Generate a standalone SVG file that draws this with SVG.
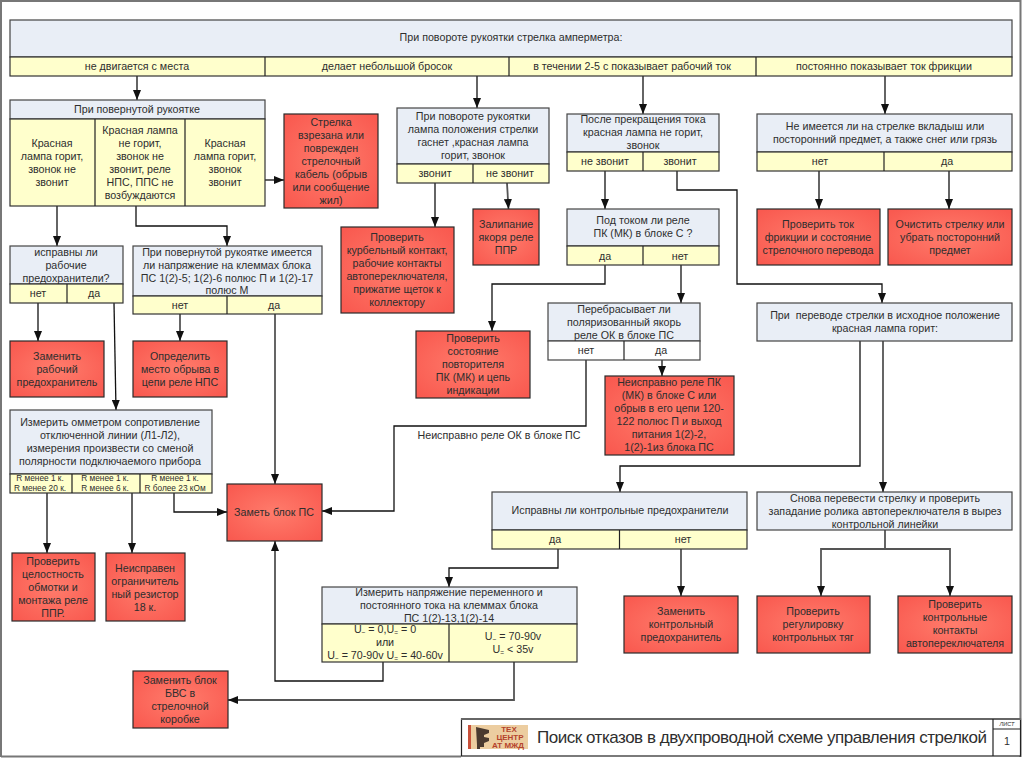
<svg xmlns="http://www.w3.org/2000/svg" width="1022" height="758" viewBox="0 0 1022 758">
<style>
text{font-family:"Liberation Sans",Arial,sans-serif;font-size:10.7px;fill:#2e2e2e;text-anchor:middle}
.q{fill:#e9eef6;stroke:#444;stroke-width:1.2}
.a{fill:#ffffcc;stroke:#333;stroke-width:1.2}
.w{fill:#fff;stroke:#444;stroke-width:1.2}
.r{fill:url(#red);stroke:#2a2a2a;stroke-width:1.2}
.d{stroke:#222;stroke-width:1.2;fill:none}
.c path{fill:none;stroke:#111;stroke-width:1.3;marker-end:url(#arr)}
.c path.n{marker-end:none}
.c path.g{stroke:#555;stroke-width:1.8}
.s{font-size:8.3px}
.sub{font-size:6.5px}
.l{font-size:8px;font-weight:bold;fill:#b5432c}
</style>
<defs>
<radialGradient id="red" cx="50%" cy="50%" r="65%"><stop offset="0" stop-color="#ff7c6c"/><stop offset="1" stop-color="#f95a50"/></radialGradient>
<marker id="arr" markerUnits="userSpaceOnUse" markerWidth="11" markerHeight="8" refX="10" refY="4" orient="auto"><path d="M0,0L10,4L0,8Z" fill="#111"/></marker>
</defs>
<rect width="1022" height="758" fill="#fff"/>
<path d="M1,757V1H1020.500V757M1,756.500H461" fill="none" stroke="#777" stroke-width="2"/>

<g class="c" id="connectors">
<path d="M137,76V100"/>
<path d="M477,76V108"/>
<path d="M643,76V114"/>
<path d="M885,76V114"/>
<path d="M265,180H284"/>
<path d="M57,206V246"/>
<path d="M136,206V226H227V246"/>
<path d="M38,303V341"/>
<path d="M114,303L116,410"/>
<path class="g" d="M180,314V341"/>
<path class="g" d="M275,314V484"/>
<path d="M47,493V553"/>
<path d="M132,493V553"/>
<path d="M174,493V512H227"/>
<path d="M435,183V227"/>
<path class="g" d="M507,183L508.500,209"/>
<path d="M605,171V209"/>
<path d="M677,171V190H737V284H882V303"/>
<path d="M605,265V284H492V331"/>
<path class="g" d="M681,265V303"/>
<path d="M586,360V426H394V511H322"/>
<path class="g" d="M662,360V376"/>
<path d="M819,171V209"/>
<path d="M949,171V209"/>
<path d="M860,341V466H620V492"/>
<path class="g" d="M883,341V492"/>
<path d="M558,549V568H449V587"/>
<path d="M681,549V596"/>
<path class="g n" d="M885,530V549"/>
<path class="g" d="M885,549H821V596"/>
<path class="g" d="M885,549H950V596"/>
<path d="M383,662V681H275V541"/>
<path class="g" d="M514,662V700H228"/>
</g>

<g id="n-top">
<rect class="q" x="10" y="20" width="1002" height="37"/>
<rect class="a" x="10" y="57" width="1002" height="19"/>
<path class="d" d="M265,57V76M509,57V76M756,57V76"/>
<text x="511" y="41">При повороте рукоятки стрелка амперметра:</text>
<text x="137" y="70">не двигается с места</text>
<text x="387" y="70">делает небольшой бросок</text>
<text x="632" y="70">в течении 2-5 с показывает рабочий ток</text>
<text x="884" y="70">постоянно показывает ток фрикции</text>
</g>

<g id="n-handle">
<rect class="q" x="10" y="100" width="255" height="19"/>
<rect class="a" x="10" y="119" width="255" height="87"/>
<path class="d" d="M95,119V206M185,119V206"/>
<text x="137" y="113">При повернутой рукоятке</text>
<text y="147"><tspan x="52">Красная</tspan><tspan x="52" dy="13">лампа горит,</tspan><tspan x="52" dy="13">звонок не</tspan><tspan x="52" dy="13">звонит</tspan></text>
<text y="134"><tspan x="140">Красная лампа</tspan><tspan x="140" dy="13">не горит,</tspan><tspan x="140" dy="13">звонок не</tspan><tspan x="140" dy="13">звонит, реле</tspan><tspan x="140" dy="13">НПС, ППС не</tspan><tspan x="140" dy="13">возбуждаются</tspan></text>
<text y="147"><tspan x="225">Красная</tspan><tspan x="225" dy="13">лампа горит,</tspan><tspan x="225" dy="13">звонок</tspan><tspan x="225" dy="13">звонит</tspan></text>
</g>

<g id="n-cut">
<rect class="r" x="284" y="114" width="94" height="94"/>
<text y="126"><tspan x="331">Стрелка</tspan><tspan x="331" dy="13">взрезана или</tspan><tspan x="331" dy="13">поврежден</tspan><tspan x="331" dy="13">стрелочный</tspan><tspan x="331" dy="13">кабель (обрыв</tspan><tspan x="331" dy="13">или сообщение</tspan><tspan x="331" dy="13">жил)</tspan></text>
</g>

<g id="n-lamp">
<rect class="q" x="397" y="108" width="152" height="56"/>
<rect class="a" x="397" y="164" width="152" height="19"/>
<path class="d" d="M473,164V183"/>
<text y="120"><tspan x="473">При повороте рукоятки</tspan><tspan x="473" dy="13">лампа положения стрелки</tspan><tspan x="473" dy="13">гаснет ,красная лампа</tspan><tspan x="473" dy="13">горит, звонок</tspan></text>
<text x="435" y="177">звонит</text>
<text x="510" y="177">не звонит</text>
</g>

<g id="n-crank">
<rect class="r" x="341" y="227" width="113" height="86"/>
<text y="241"><tspan x="397">Проверить</tspan><tspan x="397" dy="13">курбельный контакт,</tspan><tspan x="397" dy="13">рабочие контакты</tspan><tspan x="397" dy="13">автопереключателя,</tspan><tspan x="397" dy="13">прижатие щеток к</tspan><tspan x="397" dy="13">коллектору</tspan></text>
</g>

<g id="n-stick">
<rect class="r" x="473" y="209" width="66" height="56"/>
<text y="228"><tspan x="506">Залипание</tspan><tspan x="506" dy="13">якоря реле</tspan><tspan x="506" dy="13">ППР</tspan></text>
</g>

<g id="n-after">
<rect class="q" x="567" y="114" width="152" height="38"/>
<rect class="a" x="567" y="152" width="152" height="19"/>
<path class="d" d="M643,152V171"/>
<text y="123"><tspan x="643">После прекращения тока</tspan><tspan x="643" dy="13">красная лампа не горит,</tspan><tspan x="643" dy="13">звонок</tspan></text>
<text x="605" y="165">не звонит</text>
<text x="680" y="165">звонит</text>
</g>

<g id="n-pk">
<rect class="q" x="567" y="209" width="152" height="37"/>
<rect class="a" x="567" y="246" width="152" height="19"/>
<path class="d" d="M643,246V265"/>
<text y="224"><tspan x="643">Под током ли реле</tspan><tspan x="643" dy="13">ПК (МК) в блоке С ?</tspan></text>
<text x="605" y="260">да</text>
<text x="680" y="260">нет</text>
</g>

<g id="n-foreign">
<rect class="q" x="757" y="114" width="255" height="38"/>
<rect class="a" x="757" y="152" width="255" height="19"/>
<path class="d" d="M884,152V171"/>
<text y="130"><tspan x="885">Не имеется ли на стрелке вкладыш или</tspan><tspan x="885" dy="13">посторонний предмет, а также снег или грязь</tspan></text>
<text x="820" y="165">нет</text>
<text x="947" y="165">да</text>
</g>

<g id="n-friction">
<rect class="r" x="757" y="209" width="123" height="56"/>
<text y="228"><tspan x="818">Проверить ток</tspan><tspan x="818" dy="13">фрикции и состояние</tspan><tspan x="818" dy="13">стрелочного перевода</tspan></text>
</g>

<g id="n-clean">
<rect class="r" x="888" y="209" width="124" height="56"/>
<text y="228"><tspan x="950">Очистить стрелку или</tspan><tspan x="950" dy="13">убрать посторонний</tspan><tspan x="950" dy="13">предмет</tspan></text>
</g>

<g id="n-fuse">
<rect class="q" x="10" y="246" width="113" height="38"/>
<rect class="a" x="10" y="284" width="113" height="19"/>
<path class="d" d="M67,284V303"/>
<text y="256"><tspan x="66">исправны ли</tspan><tspan x="66" dy="13">рабочие</tspan><tspan x="66" dy="13">предохранители?</tspan></text>
<text x="38" y="297">нет</text>
<text x="94" y="297">да</text>
</g>

<g id="n-voltage">
<rect class="q" x="133" y="246" width="189" height="50"/>
<rect class="a" x="133" y="296" width="189" height="18"/>
<path class="d" d="M227,296V314"/>
<text y="255.500"><tspan x="227">При повернутой рукоятке имеется</tspan><tspan x="227" dy="13">ли напряжение на клеммах блока</tspan><tspan x="227" dy="13">ПС 1(2)-5; 1(2)-6 полюс П и 1(2)-17</tspan><tspan x="227" dy="12.500">полюс М</tspan></text>
<text x="180" y="309">нет</text>
<text x="274" y="309">да</text>
</g>

<g id="n-replace-fuse">
<rect class="r" x="10" y="341" width="94" height="56"/>
<text y="360"><tspan x="57">Заменить</tspan><tspan x="57" dy="13">рабочий</tspan><tspan x="57" dy="13">предохранитель</tspan></text>
</g>

<g id="n-break">
<rect class="r" x="133" y="341" width="94" height="56"/>
<text y="360"><tspan x="180">Определить</tspan><tspan x="180" dy="13">место обрыва в</tspan><tspan x="180" dy="13">цепи реле НПС</tspan></text>
</g>

<g id="n-ohm">
<rect class="q" x="10" y="410" width="202" height="64"/>
<rect class="a" x="10" y="474" width="202" height="19"/>
<path class="d" d="M72,474V493M140,474V493"/>
<text y="426"><tspan x="110">Измерить омметром сопротивление</tspan><tspan x="110" dy="13">отключенной линии (Л1-Л2),</tspan><tspan x="110" dy="13">измерения произвести со сменой</tspan><tspan x="110" dy="13">полярности подключаемого прибора</tspan></text>
<text class="s" y="481"><tspan x="40">R менее 1 к.</tspan><tspan x="40" dy="9.500">R менее 20 к.</tspan></text>
<text class="s" y="481"><tspan x="105">R менее 1 к.</tspan><tspan x="105" dy="9.500">R менее 6 к.</tspan></text>
<text class="s" y="481"><tspan x="175">R менее 1 к.</tspan><tspan x="175" dy="9.500">R более 23 кОм</tspan></text>
</g>

<g id="n-winding">
<rect class="r" x="12" y="553" width="83" height="68"/>
<text y="565"><tspan x="53">Проверить</tspan><tspan x="53" dy="13">целостность</tspan><tspan x="53" dy="13">обмотки и</tspan><tspan x="53" dy="13">монтажа реле</tspan><tspan x="53" dy="13">ППР.</tspan></text>
</g>

<g id="n-resistor">
<rect class="r" x="106" y="553" width="79" height="68"/>
<text y="572"><tspan x="145">Неисправен</tspan><tspan x="145" dy="13">ограничитель</tspan><tspan x="145" dy="13">ный резистор</tspan><tspan x="145" dy="13">18 к.</tspan></text>
</g>

<g id="n-ps">
<rect class="r" x="227" y="484" width="95" height="57"/>
<text x="274" y="516">Заметь блок ПС</text>
</g>

<g id="n-polar">
<rect class="q" x="548" y="303" width="152" height="38"/>
<rect class="w" x="548" y="341" width="152" height="19"/>
<path class="d" d="M624,341V360"/>
<text y="313"><tspan x="624">Перебрасывает ли</tspan><tspan x="624" dy="13">поляризованный якорь</tspan><tspan x="624" dy="13">реле ОК в блоке ПС</tspan></text>
<text x="586" y="354">нет</text>
<text x="661" y="354">да</text>
</g>

<g id="n-repeater">
<rect class="r" x="416" y="331" width="114" height="67"/>
<text y="342"><tspan x="473">Проверить</tspan><tspan x="473" dy="13">состояние</tspan><tspan x="473" dy="13">повторителя</tspan><tspan x="473" dy="13">ПК (МК) и цепь</tspan><tspan x="473" dy="13">индикации</tspan></text>
</g>

<g id="n-pkfault">
<rect class="r" x="605" y="376" width="129" height="79"/>
<text y="386"><tspan x="669">Неисправно реле ПК</tspan><tspan x="669" dy="13">(МК) в блоке С или</tspan><tspan x="669" dy="13">обрыв в его цепи 120-</tspan><tspan x="669" dy="13">122 полюс П и выход</tspan><tspan x="669" dy="13">питания 1(2)-2,</tspan><tspan x="669" dy="13">1(2)-1из блока ПС</tspan></text>
</g>

<text id="label-ok" x="499" y="439">Неисправно реле ОК в блоке ПС</text>

<g id="n-return">
<rect class="q" x="757" y="303" width="255" height="38"/>
<text y="319" xml:space="preserve"><tspan x="885">При  переводе стрелки в исходное положение</tspan><tspan x="885" dy="13">красная лампа горит:</tspan></text>
</g>

<g id="n-cfuse">
<rect class="q" x="492" y="492" width="255" height="38"/>
<rect class="a" x="492" y="530" width="255" height="19"/>
<path class="d" d="M619.500,530V549"/>
<text x="620" y="514">Исправны ли контрольные предохранители</text>
<text x="555" y="543">да</text>
<text x="683" y="543">нет</text>
</g>

<g id="n-again">
<rect class="q" x="757" y="492" width="255" height="38"/>
<text y="502"><tspan x="885">Снова перевести стрелку и проверить</tspan><tspan x="885" dy="13">западание ролика автопереключателя в вырез</tspan><tspan x="885" dy="13">контрольной линейки</tspan></text>
</g>

<g id="n-rfuse">
<rect class="r" x="624" y="596" width="114" height="57"/>
<text y="615"><tspan x="681">Заменить</tspan><tspan x="681" dy="13">контрольный</tspan><tspan x="681" dy="13">предохранитель</tspan></text>
</g>

<g id="n-rods">
<rect class="r" x="757" y="596" width="113" height="57"/>
<text y="615"><tspan x="813">Проверить</tspan><tspan x="813" dy="13">регулировку</tspan><tspan x="813" dy="13">контрольных тяг</tspan></text>
</g>

<g id="n-contacts">
<rect class="r" x="898" y="596" width="114" height="57"/>
<text y="608"><tspan x="955">Проверить</tspan><tspan x="955" dy="13">контрольные</tspan><tspan x="955" dy="13">контакты</tspan><tspan x="955" dy="13">автопереключателя</tspan></text>
</g>

<g id="n-measure">
<rect class="q" x="322" y="587" width="255" height="37"/>
<rect class="a" x="322" y="624" width="255" height="38"/>
<path class="d" d="M449,624V662"/>
<text y="596"><tspan x="449">Измерить напряжение переменного и</tspan><tspan x="449" dy="13">постоянного тока на клеммах блока</tspan><tspan x="449" dy="12.500">ПС 1(2)-13,1(2)-14</tspan></text>
<text y="633"><tspan x="385">U</tspan><tspan class="sub" dy="2">~</tspan><tspan dy="-2"> = 0,U</tspan><tspan class="sub" dy="2">=</tspan><tspan dy="-2"> = 0</tspan><tspan x="385" dy="13">или</tspan><tspan x="385" dy="13">U</tspan><tspan class="sub" dy="2">~</tspan><tspan dy="-2"> = 70-90v U</tspan><tspan class="sub" dy="2">=</tspan><tspan dy="-2"> = 40-60v</tspan></text>
<text y="640"><tspan x="513">U</tspan><tspan class="sub" dy="2">~</tspan><tspan dy="-2"> = 70-90v</tspan><tspan x="513" dy="13">U</tspan><tspan class="sub" dy="2">=</tspan><tspan dy="-2"> &lt; 35v</tspan></text>
</g>

<g id="n-bvs">
<rect class="r" x="133" y="671" width="95" height="57"/>
<text y="684"><tspan x="180">Заменить блок</tspan><tspan x="180" dy="13">БВС в</tspan><tspan x="180" dy="13">стрелочной</tspan><tspan x="180" dy="13">коробке</tspan></text>
</g>

<g id="title-block">
<rect x="461.500" y="719" width="559" height="37" fill="#fff" stroke="#222" stroke-width="1.2"/>
<path d="M461,719H1021" stroke="#666" stroke-width="2"/>
<path class="d" d="M993,719V756M993,729H1021"/>
<rect x="468" y="725" width="60" height="24" fill="#eccda0"/>
<rect x="468" y="725" width="3" height="24" fill="#c8503a"/>
<path d="M476,727L489,730V733L484,735V737L489,738V741L484,743V747H480V749H477V745Z" fill="#4a3a30"/>
<text class="l" x="509" y="732">ТЕХ</text>
<text class="l" x="510" y="740">ЦЕНТР</text>
<text class="l" x="508" y="748">АТ МЖД</text>
<text x="762" y="743" style="font-size:17px" textLength="450">Поиск отказов в двухпроводной схеме управления стрелкой</text>
<text x="1007" y="726" style="font-size:5.500px;font-style:italic">ЛИСТ</text>
<text x="1007" y="745">1</text>
</g>
</svg>
